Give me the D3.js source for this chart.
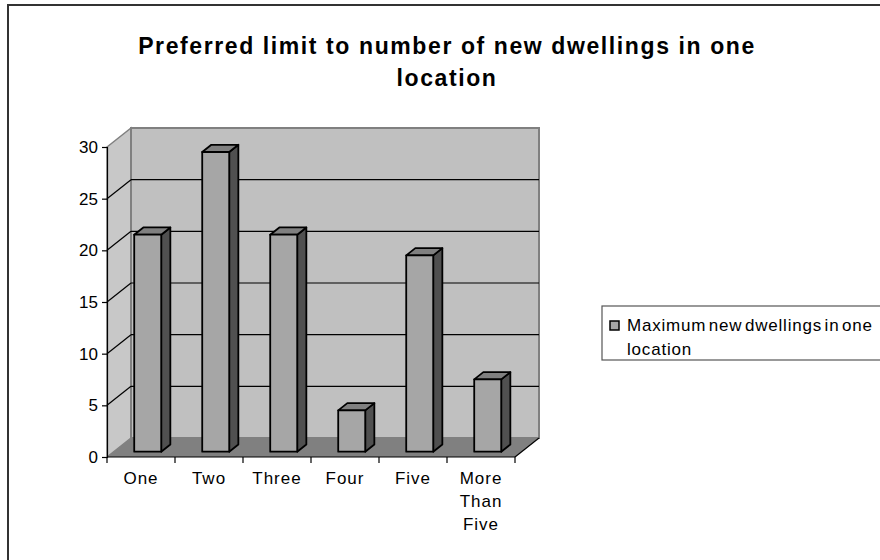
<!DOCTYPE html>
<html>
<head>
<meta charset="utf-8">
<script src="https://cdn.jsdelivr.net/npm/d3@7"></script>
<style>
  html, body { margin: 0; padding: 0; background: #fff; }
  svg { display: block; font-family: "Liberation Sans", Arial, sans-serif; }
</style>
</head>
<body>
<svg id="chart" width="880" height="560"></svg>
<script>
// Survey answers: preferred maximum number of new dwellings in one location
const categories = ["One", "Two", "Three", "Four", "Five", "More Than Five"];
const values = [21, 29, 21, 4, 19, 7];
const yTicks = [0, 5, 10, 15, 20, 25, 30];
const legendLines = ["Maximum new dwellings in one", "location"];
const titleLines = ["Preferred limit to number of new dwellings in one", "location"];

const svg = d3.select("#chart");

// Chart frame
svg.append("rect")
  .attr("x", 8).attr("y", 5).attr("width", 890).attr("height", 570)
  .attr("fill", "#fff").attr("stroke", "#333").attr("stroke-width", 2);

// Front plane of the 3-D plot and the depth offset of the back wall
const x0 = 107, x1 = 515;
const depth = { dx: 24, dy: -19 };

const x = d3.scaleBand().domain(categories).range([x0, x1]).paddingInner(0).paddingOuter(0);
const y = d3.scaleLinear().domain([0, 30]).range([457, 147]);

const yTop = y(30), yBase = y(0);

// Side wall (left)
svg.append("polygon")
  .attr("points", [[x0, yTop], [x0 + depth.dx, yTop + depth.dy], [x0 + depth.dx, yBase + depth.dy], [x0, yBase]].join(" "))
  .attr("fill", "#c8c8c8").attr("stroke", "#808080").attr("stroke-width", 1.5);

// Back wall
svg.append("rect")
  .attr("x", x0 + depth.dx).attr("y", yTop + depth.dy)
  .attr("width", x1 - x0).attr("height", yBase - yTop)
  .attr("fill", "#c0c0c0").attr("stroke", "#808080").attr("stroke-width", 2);

// Floor
svg.append("polygon")
  .attr("points", [[x0, yBase], [x1, yBase], [x1 + depth.dx, yBase + depth.dy], [x0 + depth.dx, yBase + depth.dy]].join(" "))
  .attr("fill", "#808080").attr("stroke", "none");

// Gridlines: across the side wall and along the back wall
const grid = svg.append("g").attr("stroke", "#000").attr("stroke-width", 1.2);
yTicks.filter(t => t > 0 && t < 30).forEach(t => {
  grid.append("line")
    .attr("x1", x0).attr("y1", y(t))
    .attr("x2", x0 + depth.dx).attr("y2", y(t) + depth.dy);
  grid.append("line")
    .attr("x1", x0 + depth.dx).attr("y1", y(t) + depth.dy)
    .attr("x2", x1 + depth.dx).attr("y2", y(t) + depth.dy);
});

// Floor right edge
svg.append("line")
  .attr("x1", x1).attr("y1", yBase).attr("x2", x1 + depth.dx).attr("y2", yBase + depth.dy)
  .attr("stroke", "#000").attr("stroke-width", 1.2);

// 3-D columns
const f0 = 0.28, f1 = 0.66;      // front / back of each column as a share of the depth
const barW = 27;
const bars = svg.append("g").attr("stroke", "#000").attr("stroke-width", 1.8).attr("stroke-linejoin", "round");
categories.forEach((c, i) => {
  const v = values[i];
  const fx = x(c) + (x.bandwidth() - barW) / 2 + depth.dx * f0;
  const fy = depth.dy * f0;
  const ddx = depth.dx * (f1 - f0), ddy = depth.dy * (f1 - f0);
  const top = y(v) + fy, bot = y(0) + fy;
  // right side
  bars.append("polygon")
    .attr("points", [[fx + barW, top], [fx + barW + ddx, top + ddy], [fx + barW + ddx, bot + ddy], [fx + barW, bot]].join(" "))
    .attr("fill", "#505050");
  // top
  bars.append("polygon")
    .attr("points", [[fx, top], [fx + ddx, top + ddy], [fx + barW + ddx, top + ddy], [fx + barW, top]].join(" "))
    .attr("fill", "#808080");
  // front
  bars.append("rect")
    .attr("x", fx).attr("y", top).attr("width", barW).attr("height", bot - top)
    .attr("fill", "#a6a6a6");
});

// Y axis
const yAxis = d3.axisLeft(y).tickValues(yTicks).tickSize(5).tickPadding(4);
svg.append("g").attr("transform", `translate(${x0},0)`).call(yAxis)
  .call(g => g.select(".domain").attr("stroke", "#000").attr("stroke-width", 1.2))
  .call(g => g.selectAll(".tick line").attr("stroke", "#000").attr("stroke-width", 1.2))
  .call(g => g.selectAll(".tick text").attr("font-size", 17).attr("fill", "#000")
    .attr("font-family", "Liberation Sans, Arial, sans-serif"));

// X axis: ticks at category boundaries
const xAxisG = svg.append("g");
xAxisG.append("line").attr("x1", x0).attr("x2", x1).attr("y1", yBase).attr("y2", yBase)
  .attr("stroke", "#000").attr("stroke-width", 1.2);
const bounds = categories.map(c => x(c)).concat([x1]);
xAxisG.selectAll("line.tk").data(bounds).join("line").attr("class", "tk")
  .attr("x1", d => d).attr("x2", d => d).attr("y1", yBase).attr("y2", yBase + 6)
  .attr("stroke", "#000").attr("stroke-width", 1.2);
categories.forEach(c => {
  const words = c.split(" ");
  const cx = x(c) + x.bandwidth() / 2;
  const t = xAxisG.append("text")
    .attr("x", cx).attr("y", 484)
    .attr("text-anchor", "middle").attr("font-size", 17).attr("letter-spacing", 1).attr("fill", "#000");
  words.forEach((w, k) => {
    t.append("tspan").attr("x", cx).attr("dy", k === 0 ? 0 : 23).text(w);
  });
});

// Title
svg.append("text")
  .attr("x", 447).attr("y", 54).attr("text-anchor", "middle")
  .attr("font-size", 23).attr("font-weight", "bold").attr("letter-spacing", 1.6).attr("fill", "#000")
  .selectAll("tspan").data(titleLines).join("tspan")
  .attr("x", 447).attr("dy", (d, k) => k === 0 ? 0 : 32).text(d => d);

// Legend
const lg = svg.append("g");
lg.append("rect").attr("x", 602).attr("y", 306).attr("width", 290).attr("height", 54)
  .attr("fill", "#fff").attr("stroke", "#555").attr("stroke-width", 1.2);
lg.append("rect").attr("x", 610).attr("y", 321).attr("width", 9).attr("height", 9)
  .attr("fill", "#a6a6a6").attr("stroke", "#000").attr("stroke-width", 1.5);
lg.append("text").attr("x", 627).attr("y", 331).attr("font-size", 17)
  .attr("letter-spacing", 0.8).attr("word-spacing", -3).attr("fill", "#000")
  .selectAll("tspan").data(legendLines).join("tspan")
  .attr("x", 627).attr("dy", (d, k) => k === 0 ? 0 : 24).text(d => d);
</script>
</body>
</html>
